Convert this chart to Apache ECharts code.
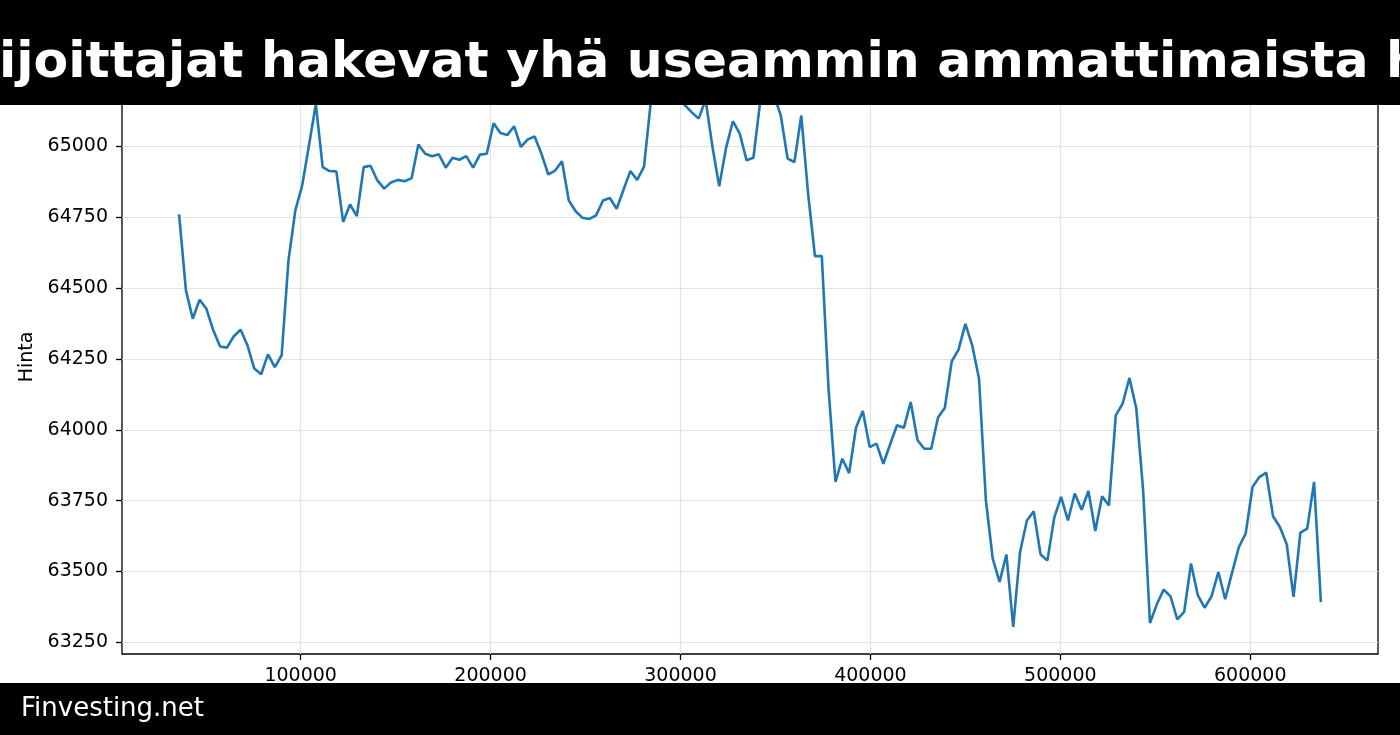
<!DOCTYPE html>
<html>
<head>
<meta charset="utf-8">
<script src="https://cdn.jsdelivr.net/npm/echarts@6.0.0/dist/echarts.min.js"></script>
<style>
html,body{margin:0;padding:0;background:#fff;}
#chart{width:1400px;height:735px;}
</style>
</head>
<body>
<div id="chart"></div>
<script>
const titleText = 'ijoittajat hakevat yhä useammin ammattimaista h';
const footerText = 'Finvesting.net';
const yAxisName = 'Hinta';

const xTickValues = [100000, 200000, 300000, 400000, 500000, 600000];
const yTickValues = [63250, 63500, 63750, 64000, 64250, 64500, 64750, 65000, 65250];

const xValues = [
  36000,39600,43200,46800,50400,54000,57600,61200,64800,68400,
  72000,75600,79200,82800,86400,90000,93600,97200,100800,104400,
  108000,111600,115200,118800,122400,126000,129600,133200,136800,140400,
  144000,147600,151200,154800,158400,162000,165600,169200,172800,176400,
  180000,183600,187200,190800,194400,198000,201600,205200,208800,212400,
  216000,219600,223200,226800,230400,234000,237600,241200,244800,248400,
  252000,255600,259200,262800,266400,270000,273600,277200,280800,284400,
  288000,291600,295200,298800,302400,306000,309600,313200,316800,320400,
  324000,327600,331200,334800,338400,342000,345600,349200,352800,356400,
  360000,363600,367200,370800,374400,378000,381600,385200,388800,392400,
  396000,399600,403200,406800,410400,414000,417600,421200,424800,428400,
  432000,435600,439200,442800,446400,450000,453600,457200,460800,464400,
  468000,471600,475200,478800,482400,486000,489600,493200,496800,500400,
  504000,507600,511200,514800,518400,522000,525600,529200,532800,536400,
  540000,543600,547200,550800,554400,558000,561600,565200,568800,572400,
  576000,579600,583200,586800,590400,594000,597600,601200,604800,608400,
  612000,615600,619200,622800,626400,630000,633600,637200
];

const priceValues = [
  64760,64492,64392,64459,64427,64351,64294,64290,64330,64353,
  64298,64216,64196,64266,64221,64263,64598,64774,64862,65004,
  65150,64927,64913,64912,64733,64795,64754,64927,64932,64880,
  64851,64873,64882,64877,64888,65007,64974,64965,64972,64925,
  64960,64953,64966,64925,64971,64974,65082,65047,65040,65071,
  64998,65025,65035,64974,64901,64915,64948,64809,64771,64748,
  64744,64757,64809,64818,64780,64847,64913,64882,64929,65160,
  65200,65210,65190,65170,65145,65120,65098,65165,65000,64859,
  64995,65089,65045,64951,64960,65160,65200,65180,65110,64957,
  64945,65109,64833,64613,64613,64140,63816,63898,63847,64007,
  64066,63939,63951,63880,63949,64016,64007,64098,63963,63933,
  63933,64043,64078,64241,64283,64374,64298,64180,63751,63545,
  63463,63560,63304,63569,63680,63712,63560,63539,63690,63763,
  63680,63775,63718,63784,63643,63765,63733,64051,64092,64183,
  64075,63786,63318,63384,63436,63412,63331,63357,63528,63416,
  63372,63412,63498,63402,63495,63586,63634,63798,63833,63849,
  63695,63657,63596,63410,63637,63651,63816,63392
];

const seriesData = xValues.map((x, i) => [x, priceValues[i]]);

const FONT = 'DejaVu Sans';
const chart = echarts.init(document.getElementById('chart'), null, {renderer: 'canvas'});

chart.setOption({
  animation: false,
  backgroundColor: '#ffffff',
  grid: {
    left: 122, right: 22, top: 60, bottom: 81,
    show: true, borderColor: '#000', borderWidth: 1.3, backgroundColor: 'transparent'
  },
  xAxis: {
    type: 'value',
    min: 5940, max: 667260,
    axisLine: {show: false},
    axisTick: {show: true, length: 6, lineStyle: {color: '#000', width: 1.3}, customValues: xTickValues},
    axisLabel: {
      customValues: xTickValues, margin: 13,
      color: '#000', fontFamily: FONT, fontSize: 19,
      formatter: v => String(v)
    },
    splitLine: {show: true, lineStyle: {color: '#e3e3e3', width: 1.2}}
  },
  yAxis: {
    type: 'value',
    min: 63208.7, max: 65305,
    name: yAxisName, nameLocation: 'middle', nameGap: 82,
    nameTextStyle: {color: '#000', fontFamily: FONT, fontSize: 19},
    axisLine: {show: false},
    axisTick: {show: true, length: 6, lineStyle: {color: '#000', width: 1.3}, customValues: yTickValues},
    axisLabel: {
      customValues: yTickValues, margin: 14,
      color: '#000', fontFamily: FONT, fontSize: 19,
      formatter: v => String(v)
    },
    splitLine: {show: true, lineStyle: {color: '#e3e3e3', width: 1.2}}
  },
  series: [{
    type: 'line',
    data: seriesData,
    showSymbol: false,
    lineStyle: {color: '#1f77b4', width: 2.6},
    itemStyle: {color: '#1f77b4'}
  }],
  graphic: [
    {type: 'rect', z: 100, shape: {x: 0, y: 0, width: 1400, height: 105}, style: {fill: '#000'}},
    {type: 'text', z: 101, style: {x: -1, y: 64, text: titleText, fill: '#fff',
      font: 'bold 50.5px "DejaVu Sans"', verticalAlign: 'middle', align: 'left'}},
    {type: 'rect', z: 100, shape: {x: 0, y: 683, width: 1400, height: 52}, style: {fill: '#000'}},
    {type: 'text', z: 101, style: {x: 21, y: 709, text: footerText, fill: '#fff',
      font: '26px "DejaVu Sans"', verticalAlign: 'middle', align: 'left'}}
  ]
});
</script>
</body>
</html>
